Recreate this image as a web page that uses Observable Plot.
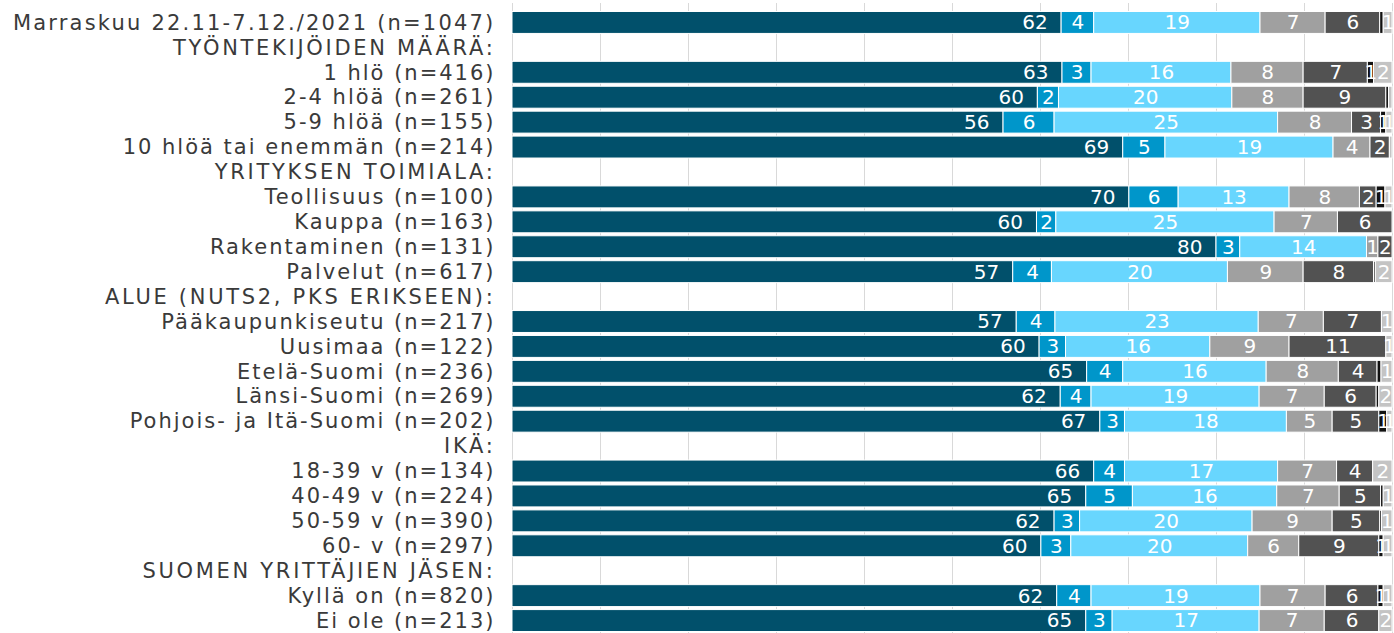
<!DOCTYPE html>
<html>
<head>
<meta charset="utf-8">
<script src="https://cdn.jsdelivr.net/npm/d3@7"></script>
<script src="https://cdn.jsdelivr.net/npm/@observablehq/plot@0.6"></script>
<style>
  body { margin: 0; background: #fff; }
  #chart svg { display: block; letter-spacing: 2px; }
  #chart svg g[aria-label="text"] { letter-spacing: 0; }
</style>
</head>
<body>
<div id="chart"></div>
<script>
// Row labels (header rows have no data)
const categories = [
  "Marraskuu 22.11-7.12./2021 (n=1047)",
  "TYÖNTEKIJÖIDEN MÄÄRÄ:",
  "1 hlö (n=416)",
  "2-4 hlöä (n=261)",
  "5-9 hlöä (n=155)",
  "10 hlöä tai enemmän (n=214)",
  "YRITYKSEN TOIMIALA:",
  "Teollisuus (n=100)",
  "Kauppa (n=163)",
  "Rakentaminen (n=131)",
  "Palvelut (n=617)",
  "ALUE (NUTS2, PKS ERIKSEEN):",
  "Pääkaupunkiseutu (n=217)",
  "Uusimaa (n=122)",
  "Etelä-Suomi (n=236)",
  "Länsi-Suomi (n=269)",
  "Pohjois- ja Itä-Suomi (n=202)",
  "IKÄ:",
  "18-39 v (n=134)",
  "40-49 v (n=224)",
  "50-59 v (n=390)",
  "60- v (n=297)",
  "SUOMEN YRITTÄJIEN JÄSEN:",
  "Kyllä on (n=820)",
  "Ei ole (n=213)"
];

// Series values (%), null = header row
const s1 = [62.4, null, 62.5, 59.7, 55.8, 69.4, null, 70.1, 59.6, 80.0, 56.9, null, 57.3, 59.9, 65.3, 62.3, 66.8, null, 66.1, 65.2, 61.6, 60.1, null, 61.9, 65.2];
const s2 = [3.7, null, 3.3, 2.4, 5.8, 4.8, null, 5.6, 2.2, 2.7, 4.4, null, 4.4, 3.0, 4.1, 3.5, 2.8, null, 3.5, 5.3, 2.9, 3.4, null, 3.9, 3.0];
const s3 = [18.9, null, 15.9, 19.7, 25.4, 19.1, null, 12.6, 24.8, 14.4, 20.0, null, 23.1, 16.4, 16.3, 19.1, 18.4, null, 17.4, 16.4, 19.6, 20.1, null, 19.2, 16.7];
const s4 = [7.4, null, 8.2, 8.1, 8.4, 4.2, null, 8.0, 7.2, 1.3, 8.6, null, 7.4, 9.0, 8.2, 7.4, 5.2, null, 6.7, 7.1, 9.1, 5.8, null, 7.4, 7.4];
const s5 = [6.2, null, 7.3, 9.4, 3.3, 2.2, null, 1.9, 6.2, 1.6, 8.0, null, 6.6, 11.0, 4.4, 5.9, 5.3, null, 4.1, 4.7, 5.4, 9.1, null, 6.0, 6.2];
const s6 = [0.4, null, 0.7, 0.3, 0.6, 0, null, 1.0, 0, 0, 0.2, null, 0, 0, 0.45, 0.3, 0.9, null, 0, 0.3, 0.2, 0.5, null, 0.6, 0];
const s7 = [1.0, null, 2.1, 0.4, 0.7, 0.3, null, 0.8, 0, 0, 1.9, null, 1.2, 0.7, 1.25, 1.5, 0.6, null, 2.2, 1.0, 1.2, 1.0, null, 1.0, 1.5];

const seriesNames = ["s1", "s2", "s3", "s4", "s5", "s6", "s7"];
const seriesColors = ["#01506b", "#0096ca", "#68d6fe", "#a0a0a0", "#525252", "#111111", "#c4c4c4"];
const seriesValues = [s1, s2, s3, s4, s5, s6, s7];
const gridTicks = [0, 10, 20, 30, 40, 50, 60, 70, 80, 90, 100];

const data = [];
categories.forEach((cat, i) => {
  seriesValues.forEach((arr, j) => {
    const v = arr[i];
    if (v != null && v > 0) data.push({cat, series: seriesNames[j], j, value: v});
  });
});

const labelText = d => (d.j === 0 || Math.round(d.value) === 0) ? "" : String(Math.round(d.value));

const chart = Plot.plot({
  width: 1394,
  height: 633,
  marginLeft: 512,
  marginRight: 2,
  marginTop: 3,
  marginBottom: 0,
  style: {fontFamily: "DejaVu Sans, Verdana, sans-serif", fontSize: "21px", color: "#3a3a3a", background: "#fff"},
  x: {domain: [0, 100], axis: null},
  y: {domain: categories, range: [10, 633], paddingInner: 0.12, paddingOuter: 0.06, round: false, tickSize: 0, tickPadding: 17, label: null},
  color: {domain: seriesNames, range: seriesColors},
  marks: [
    Plot.ruleX(gridTicks, {stroke: "#d9d9d9", strokeWidth: 1}),
    Plot.barX(data, Plot.stackX({x: "value", y: "cat", fill: "series", stroke: "white", strokeWidth: 1})),
    Plot.text(data, Plot.stackX({x: "value", y: "cat", text: labelText, fill: "white", fontSize: 20})),
    Plot.text(data.filter(d => d.j === 0), {x: "value", y: "cat", text: d => String(Math.round(d.value)), fill: "white", fontSize: 20, textAnchor: "end", dx: -14})
  ]
});
// Upper-case section headers are set slightly wider, as in the original
d3.select(chart).selectAll("text").each(function () {
  const t = this.textContent;
  if (t.endsWith(":") && t === t.toUpperCase()) d3.select(this).style("letter-spacing", "2.7px");
  else if (t.startsWith("Marraskuu")) d3.select(this).style("letter-spacing", "2.2px");
});
document.getElementById("chart").appendChild(chart);
</script>
</body>
</html>
